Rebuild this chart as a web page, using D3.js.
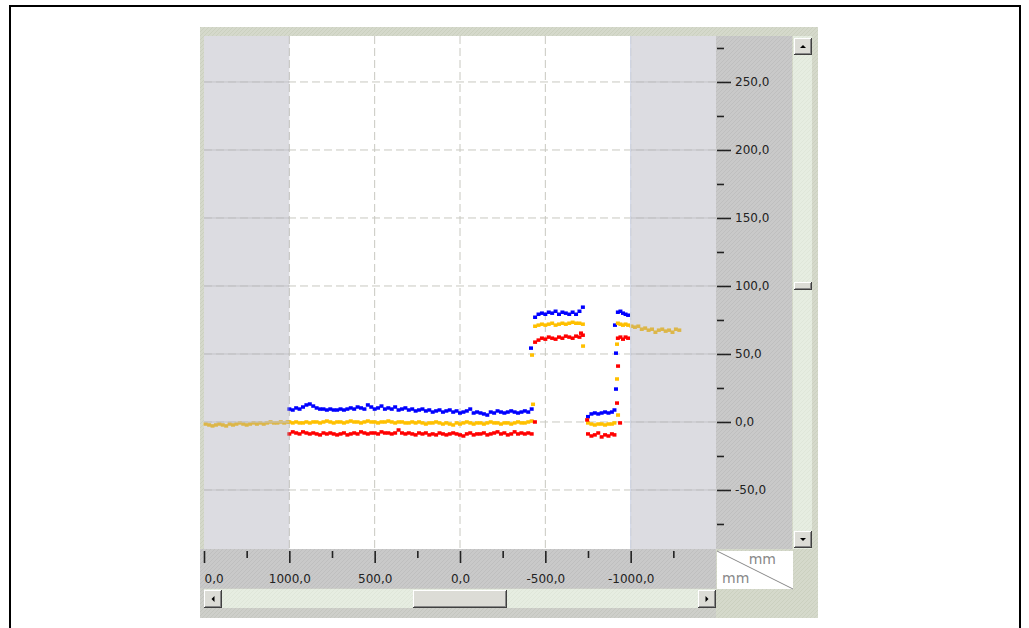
<!DOCTYPE html>
<html>
<head>
<meta charset="utf-8">
<script src="https://cdn.jsdelivr.net/npm/d3@7"></script>
<style>
  body { margin: 0; background: #fff; }
  svg { display: block; }
</style>
</head>
<body>
<svg id="chart"></svg>
<script>
// sample positions (mm) for each stretch of the scan
let xLeftGray = [1490, 1470, 1450, 1430, 1410, 1390, 1370, 1350, 1330, 1310, 1290, 1270, 1250,
  1230, 1210, 1190, 1170, 1150, 1130, 1110, 1090, 1070, 1050, 1030, 1010];
let xMain = [1000, 980, 960, 940, 920, 900, 880, 860, 840, 820, 800, 780, 760, 740, 720, 700, 680,
  660, 640, 620, 600, 580, 560, 540, 520, 500, 480, 460, 440, 420, 400, 380, 360, 340, 320, 300,
  280, 260, 240, 220, 200, 180, 160, 140, 120, 100, 80, 60, 40, 20, 0, -20, -40, -60, -80, -100,
  -120, -140, -160, -180, -200, -220, -240, -260, -280, -300, -320, -340, -360, -380, -400, -420];
let xHigh1 = [-440, -460, -480, -500, -520, -540, -560, -580, -600, -620, -640, -660, -680, -700, -720];
let xLow2 = [-750, -770, -790, -810, -830, -850, -870, -890, -905];
let xHigh2 = [-925, -940, -955, -970, -985];
let xTail = [-1005, -1025, -1045, -1065, -1085, -1105, -1125, -1145, -1165, -1185, -1205, -1225,
  -1245, -1265, -1285];

// blue (upper edge)
let blueMain = [9.5, 8.8, 10.3, 9.5, 11.0, 12.5, 13.2, 11.7, 10.3, 9.5, 9.5, 8.8, 9.5, 8.8, 8.8, 9.5,
  8.8, 9.5, 10.3, 9.5, 11.0, 10.3, 9.5, 12.5, 11.0, 9.5, 10.3, 11.7, 9.5, 10.3, 9.5, 11.0, 8.8, 9.5,
  10.3, 8.8, 9.5, 8.1, 8.8, 9.5, 8.1, 8.8, 7.3, 8.1, 8.8, 7.3, 8.1, 8.8, 7.3, 8.1, 6.6, 7.3, 8.1,
  9.5, 6.6, 7.3, 6.6, 5.9, 5.1, 7.3, 6.6, 8.1, 7.3, 6.6, 7.3, 8.1, 7.3, 6.6, 7.3, 8.1, 7.3, 9.5];
let blueHigh1 = [77.0, 79.2, 80.0, 79.2, 80.7, 80.0, 81.4, 79.2, 80.7, 80.0, 79.2, 80.7, 79.2, 81.4, 84.4];
let blueLow2 = [3.9, 5.9, 6.6, 5.9, 6.6, 7.3, 6.6, 7.3, 8.8];
let blueHigh2 = [80.7, 81.4, 80.0, 79.2, 78.5];
let blueJump = [[-416, 54.3], [-914, 24.2], [-914, 50.6], [-908, 71.2]];

// yellow (middle)
let yellowLeftGray = [-1.5, -2.2, -2.9, -2.2, -1.5, -2.2, -2.9, -1.5, -2.2, -1.5, -0.7, -1.5, -2.2,
  -1.5, -0.7, -1.5, -0.7, -1.5, -0.7, 0, -0.7, -0.7, 0, -0.7, 0];
let yellowMain = [0, -0.7, 0, -0.7, -0.7, 0, -0.7, 0, 0, -0.7, 0, 0.7, 0, -0.7, 0, 0, -0.7, 0, 0.7,
  0, 0, -0.7, 0, 0.7, 0, 0, -0.7, 0, 0, 0.7, 0, -0.7, 0, 0, -0.7, -0.7, 0, -0.7, 0, -0.7, -1.5,
  -0.7, -0.7, 0, -0.7, -1.5, -0.7, -1.5, -2.2, -0.7, -1.5, -0.7, 0, -0.7, -1.5, -0.7, -0.7, -1.5,
  -0.7, 0, -0.7, -0.7, -1.5, -0.7, -0.7, -1.5, -0.7, 0, -0.7, -0.7, 0, 0.7];
let yellowHigh1 = [70.4, 71.2, 71.9, 71.2, 71.9, 72.6, 71.2, 71.9, 72.6, 71.9, 72.6, 73.3, 72.6, 72.6, 71.9];
let yellowLow2 = [-0.7, -1.5, -2.2, -1.5, -1.5, -2.2, -1.5, -1.5, -0.7];
let yellowHigh2 = [72.6, 71.9, 71.2, 71.9, 71.2];
let yellowTail = [70.4, 69.7, 70.4, 68.2, 69.0, 67.5, 68.2, 66.0, 67.5, 68.2, 66.8, 67.5, 66.0, 68.2, 67.5];
let yellowJump = [[-428, 13.0], [-422, 49.2], [-721, 55.8], [-926, 5.1], [-920, 31.6], [-920, 57.2]];

// red (lower edge)
let redMain = [-8.8, -7.3, -8.1, -8.8, -7.3, -8.1, -8.8, -8.1, -8.8, -9.5, -8.1, -8.8, -8.1, -8.8,
  -9.5, -8.8, -8.1, -9.5, -8.8, -8.1, -8.8, -7.3, -8.1, -8.8, -8.1, -8.1, -8.8, -7.3, -8.1, -8.1,
  -8.8, -8.1, -5.9, -8.1, -8.8, -8.1, -8.8, -9.5, -8.1, -8.8, -8.1, -9.5, -8.8, -9.5, -8.1, -8.8,
  -9.5, -8.8, -8.1, -8.8, -9.5, -10.3, -8.8, -8.1, -9.5, -8.8, -8.8, -8.1, -9.5, -8.8, -8.1, -7.3,
  -8.8, -8.1, -9.5, -8.8, -7.3, -8.8, -8.1, -8.8, -8.1, -8.8];
let redHigh1 = [58.7, 60.2, 61.6, 60.9, 62.4, 61.6, 60.9, 62.4, 61.6, 63.1, 62.4, 61.6, 63.1, 62.4, 63.8];
let redLow2 = [-8.8, -10.3, -9.5, -8.1, -11.0, -9.5, -10.3, -8.8, -9.5];
let redHigh2 = [61.6, 62.4, 60.9, 62.4, 61.6];
let redJump = [[-439, 0], [-709, 65.3], [-745, 1.5], [-938, -0.7], [-926, 41.1], [-920, 13.9]];

// axes
let xMajor = [1500, 1000, 500, 0, -500, -1000];
let xTickLabels = ["0,0", "1000,0", "500,0", "0,0", "-500,0", "-1000,0"];
let xMinor = [1250, 750, 250, -250, -750, -1250];
let xGrid = [1000, 500, 0, -500, -1000];
let yMajor = [250, 200, 150, 100, 50, 0, -50];
let yTickLabels = ["250,0", "200,0", "150,0", "100,0", "50,0", "0,0", "-50,0"];
let yMinor = [275, 225, 175, 125, 75, 25, -25, -75];
let unitLabel = "mm";

let width = 1029;
let height = 628;
let plotL = 204, plotR = 716, plotT = 36, plotB = 549;

let svg = d3.select("#chart").attr("width", width).attr("height", height);

let xScale = d3.scaleLinear().domain([1500, -1500]).range([plotL, plotR]);
let yScale = d3.scaleLinear().domain([-93.4, 283.8]).range([plotB, plotT]);

let zip = (xs, ys) => xs.map((x, i) => [x, ys[i]]);

let series = [
  { color: "#0000ff", pts: [].concat(zip(xMain, blueMain), zip(xHigh1, blueHigh1), zip(xLow2, blueLow2), zip(xHigh2, blueHigh2), blueJump) },
  { color: "#ffc000", pts: [].concat(zip(xLeftGray, yellowLeftGray), zip(xMain, yellowMain), zip(xHigh1, yellowHigh1), zip(xLow2, yellowLow2), zip(xHigh2, yellowHigh2), zip(xTail, yellowTail), yellowJump) },
  { color: "#ff0000", pts: [].concat(zip(xMain, redMain), zip(xHigh1, redHigh1), zip(xLow2, redLow2), zip(xHigh2, redHigh2), redJump) }
];

// textures
let defs = svg.append("defs");
let hatch = (id, base, line) => {
  let p = defs.append("pattern").attr("id", id).attr("patternUnits", "userSpaceOnUse")
    .attr("width", 4).attr("height", 4);
  p.append("rect").attr("width", 4).attr("height", 4).attr("fill", base);
  p.append("path").attr("d", "M0,4 L4,0 M-1,1 L1,-1 M3,5 L5,3").attr("stroke", line).attr("stroke-width", 0.8);
};
hatch("bg", "#d5d9cb", "#c9cebd");
hatch("band", "#c9c9c9", "#bdbdbd");
hatch("track", "#e6ede1", "#dde5d7");

// page frame
svg.append("rect").attr("x", 10).attr("y", 6).attr("width", 1010).attr("height", 700)
  .attr("fill", "none").attr("stroke", "#000").attr("stroke-width", 2);

// widget
svg.append("rect").attr("x", 200).attr("y", 27).attr("width", 618).attr("height", 591).attr("fill", "url(#bg)");
svg.append("rect").attr("x", 200).attr("y", plotB).attr("width", plotR - 200).attr("height", 39).attr("fill", "url(#band)");
svg.append("rect").attr("x", plotR).attr("y", plotT).attr("width", 76).attr("height", plotB - plotT).attr("fill", "url(#band)");
svg.append("rect").attr("x", 200).attr("y", 588).attr("width", plotR - 200).attr("height", 30).attr("fill", "url(#band)").attr("opacity", 0.6);

// plot background
svg.append("rect").attr("x", plotL).attr("y", plotT).attr("width", plotR - plotL).attr("height", plotB - plotT).attr("fill", "#fff");

// grid
svg.append("g").selectAll("line").data(xGrid).enter().append("line")
  .attr("x1", d => xScale(d)).attr("x2", d => xScale(d)).attr("y1", plotT).attr("y2", plotB)
  .attr("stroke", "#c8c8c0").attr("stroke-dasharray", "8,4");
svg.append("g").selectAll("line").data(yMajor).enter().append("line")
  .attr("x1", plotL).attr("x2", plotR).attr("y1", d => yScale(d)).attr("y2", d => yScale(d))
  .attr("stroke", "#c8c8c0").attr("stroke-dasharray", "8,4");

// points
series.forEach(s => {
  svg.append("g").selectAll("rect").data(s.pts).enter().append("rect")
    .attr("x", d => xScale(d[0]) - 2).attr("y", d => yScale(d[1]) - 1.75)
    .attr("width", 4).attr("height", 3.5).attr("fill", s.color);
});

// shaded ranges outside +-1000 mm
[[1500, 1000], [-1000, -1500]].forEach(r => {
  svg.append("rect").attr("x", xScale(r[0])).attr("y", plotT)
    .attr("width", xScale(r[1]) - xScale(r[0])).attr("height", plotB - plotT)
    .attr("fill", "rgb(167,167,180)").attr("opacity", 0.4);
  svg.append("g").selectAll("line").data(yMajor).enter().append("line")
    .attr("x1", xScale(r[0])).attr("x2", xScale(r[1]))
    .attr("y1", d => yScale(d)).attr("y2", d => yScale(d))
    .attr("stroke", "#c4c4c8");
});
svg.append("line").attr("x1", xScale(-1000)).attr("x2", xScale(-1000)).attr("y1", plotT).attr("y2", plotB)
  .attr("stroke", "#d0d6e6");

// right axis
let yAxis = d3.axisRight(yScale).tickValues(yMajor).tickSize(14).tickPadding(4)
  .tickFormat((d, i) => yTickLabels[i]);
let gy = svg.append("g").attr("transform", "translate(" + (plotR + 1) + ",0)").call(yAxis);
gy.select(".domain").remove();
gy.selectAll("line").attr("stroke", "#222").attr("stroke-width", 1.6);
gy.selectAll("text").attr("font-family", "DejaVu Sans").attr("font-size", 12).attr("fill", "#222");
let yAxisMinor = d3.axisRight(yScale).tickValues(yMinor).tickSize(7).tickFormat("");
let gym = svg.append("g").attr("transform", "translate(" + (plotR + 1) + ",0)").call(yAxisMinor);
gym.select(".domain").remove();
gym.selectAll("line").attr("stroke", "#222").attr("stroke-width", 1.6);

// bottom axis
let xAxis = d3.axisBottom(xScale).tickValues(xMajor).tickSize(12).tickPadding(11)
  .tickFormat((d, i) => xTickLabels[i]);
let gx = svg.append("g").attr("transform", "translate(0," + (plotB + 2) + ")").call(xAxis);
gx.select(".domain").remove();
gx.selectAll("line").attr("stroke", "#222").attr("stroke-width", 1.6);
gx.selectAll("text").attr("font-family", "DejaVu Sans").attr("font-size", 12).attr("fill", "#222")
  .attr("text-anchor", d => d === 1500 ? "start" : "middle");
let xAxisMinor = d3.axisBottom(xScale).tickValues(xMinor).tickSize(7).tickFormat("");
let gxm = svg.append("g").attr("transform", "translate(0," + (plotB + 2) + ")").call(xAxisMinor);
gxm.select(".domain").remove();
gxm.selectAll("line").attr("stroke", "#222").attr("stroke-width", 1.6);

// unit corner
svg.append("rect").attr("x", plotR + 1).attr("y", plotB + 2).attr("width", 76).attr("height", 38).attr("fill", "#fff");
svg.append("line").attr("x1", plotR + 1).attr("y1", plotB + 2).attr("x2", plotR + 77).attr("y2", plotB + 40)
  .attr("stroke", "#888");
svg.append("text").attr("x", 776).attr("y", 564).attr("text-anchor", "end")
  .attr("font-family", "DejaVu Sans").attr("font-size", 14).attr("fill", "#888").text(unitLabel);
svg.append("text").attr("x", 722).attr("y", 583)
  .attr("font-family", "DejaVu Sans").attr("font-size", 14).attr("fill", "#888").text(unitLabel);

// scrollbars
let button = (x, y, w, h, arrow) => {
  let g = svg.append("g");
  g.append("rect").attr("x", x).attr("y", y).attr("width", w).attr("height", h).attr("fill", "#404040");
  g.append("rect").attr("x", x).attr("y", y).attr("width", w - 1).attr("height", h - 1).attr("fill", "#fff");
  g.append("rect").attr("x", x + 1).attr("y", y + 1).attr("width", w - 2).attr("height", h - 2).attr("fill", "#888");
  g.append("rect").attr("x", x + 1).attr("y", y + 1).attr("width", w - 3).attr("height", h - 3).attr("fill", "#dcdcd6");
  let cx = x + w / 2, cy = y + h / 2, p;
  if (arrow === "up") p = [[cx - 3, cy + 1.5], [cx + 3, cy + 1.5], [cx, cy - 1.5]];
  if (arrow === "down") p = [[cx - 3, cy - 1.5], [cx + 3, cy - 1.5], [cx, cy + 1.5]];
  if (arrow === "left") p = [[cx + 1.5, cy - 3], [cx + 1.5, cy + 3], [cx - 1.5, cy]];
  if (arrow === "right") p = [[cx - 1.5, cy - 3], [cx - 1.5, cy + 3], [cx + 1.5, cy]];
  if (p) g.append("path").attr("d", "M" + p.join("L") + "Z").attr("fill", "#000");
};
svg.append("rect").attr("x", 793).attr("y", plotT).attr("width", 19).attr("height", plotB - plotT).attr("fill", "url(#track)");
svg.append("rect").attr("x", 204).attr("y", 589).attr("width", plotR - 204).attr("height", 19).attr("fill", "url(#track)");
button(794, 38, 18, 17, "up");
button(794, 531, 18, 17, "down");
button(794, 282, 18, 8, null);
button(204, 590, 18, 18, "left");
button(698, 590, 18, 18, "right");
button(413, 590, 94, 18, null);
</script>
</body>
</html>
